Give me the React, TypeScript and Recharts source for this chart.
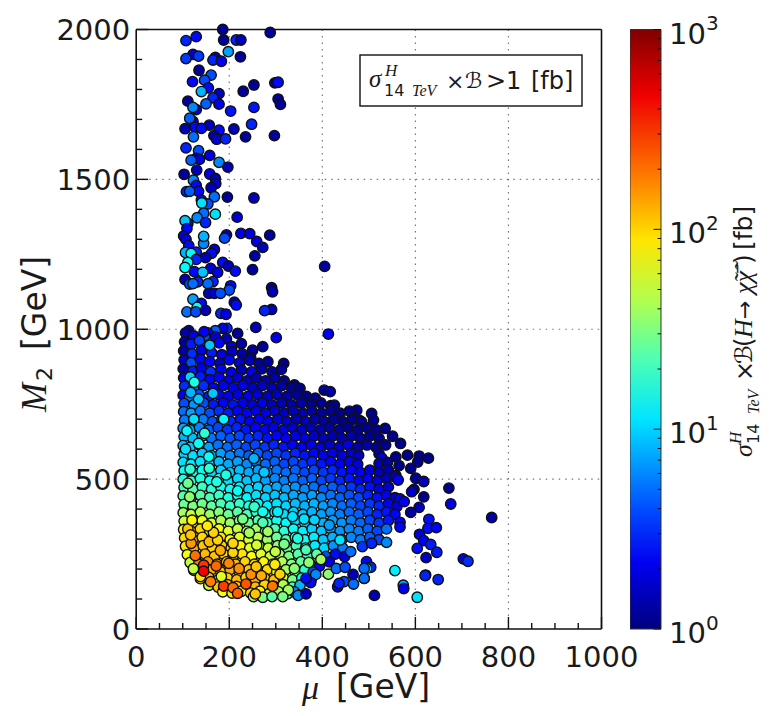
import {
  BarChart,
  Bar,
  ScatterChart,
  Scatter,
  XAxis,
  YAxis,
  CartesianGrid,
} from "recharts";

type Row = [number, number, number]; // mu [GeV], M2 [GeV], sigma x B [fb]

const X_MAJOR = [0, 200, 400, 600, 800, 1000];
const X_TICKS = [0, 50, 100, 150, 200, 250, 300, 350, 400, 450, 500, 550, 600, 650, 700, 750, 800, 850, 900, 950, 1000];
const Y_MAJOR = [0, 500, 1000, 1500, 2000];
const Y_TICKS = [0, 100, 200, 300, 400, 500, 600, 700, 800, 900, 1000, 1100, 1200, 1300, 1400, 1500, 1600, 1700, 1800, 1900, 2000];
const BAR_VALUES = [1, 2, 3, 4, 5, 6, 7, 8, 9, 10, 20, 30, 40, 50, 60, 70, 80, 90, 100, 200, 300, 400, 500, 600, 700, 800, 900, 1000];
const BAR_STOPS = [0, 0.05, 0.11, 0.2, 0.35, 0.45, 0.5, 0.55, 0.65, 0.75, 0.89, 1];
const BAR_DATA = [{ name: "scale", decades: 3 }];

// isolated points above the dense blob
const sparseTail: Row[] = [
  [129,1976,2.5],[107,1963,3],[188,1965,1.2],[186,2000,1.2],[215,1965,3],[225,1965,1.5],[288,1990,1.2],[198,1926,7],
  [122,1917,2],[107,1903,3.5],[134,1911,3.5],[170,1907,1.5],[165,1898,3],[183,1894,2.2],[224,1909,1.2],[135,1864,1.2],
  [161,1848,4],[121,1826,2.5],[147,1831,4],[155,1805,2.5],[140,1793,8],[253,1815,1.2],[230,1794,1.2],[298,1822,1.2],
  [305,1824,2.5],[178,1786,1.5],[165,1772,3],[150,1752,4.5],[111,1761,1.3],[178,1751,2],[129,1733,2],[122,1740,6],
  [305,1768,1.2],[310,1750,1.2],[203,1728,2.7],[253,1740,2.7],[122,1693,1.5],[115,1704,4.5],[157,1681,1.5],[105,1669,1.5],
  [127,1674,2.5],[140,1670,2.5],[178,1664,2.5],[210,1668,1.5],[248,1684,3],[123,1642,5],[167,1646,1.5],[173,1634,1.8],
  [192,1635,3],[235,1642,1.2],[297,1646,1.2],[107,1605,3],[134,1596,4],[158,1580,2],[129,1570,2],[136,1567,2],
  [118,1564,4.5],[178,1557,6],[197,1541,1.5],[103,1517,1.2],[130,1531,1.5],[158,1518,2],[170,1503,1.5],[123,1497,6],
  [171,1486,1.8],[129,1480,2.5],[161,1472,1.5],[108,1459,3],[134,1460,2.5],[115,1460,4.5],[196,1441,1.2],[253,1438,1.5],
  [168,1442,5],[140,1431,2.5],[154,1418,4],[141,1421,11],[170,1384,11],[145,1387,5],[217,1374,1.8],[131,1372,6],
  [111,1353,2.5],[149,1356,3],[105,1362,9],[109,1336,2.5],[225,1320,2],[244,1319,2],[287,1314,1.2],[194,1315,1.5],
  [190,1304,4],[102,1311,2],[107,1300,2],[145,1286,6],[145,1310,8],[259,1293,2],[272,1273,1.5],[113,1279,2.5],
  [168,1266,2],[129,1257,3],[106,1256,8],[118,1253,13],[255,1245,1.3],[162,1253,2.5],[149,1239,1.5],[129,1233,3],
  [186,1223,2.5],[111,1223,14],[105,1206,13],[405,1210,1.3],[198,1211,1.5],[213,1194,2.5],[250,1199,1.2],[160,1203,2],
  [175,1190,2],[125,1192,2.5],[143,1190,9],[105,1166,1.5],[165,1159,3],[132,1158,3],[115,1151,4],[122,1152,5],
  [154,1152,5],[203,1145,2.5],[200,1131,4],[291,1139,1.2],[293,1125,1.5],[156,1120,1.5],[168,1120,2],[181,1120,4],
  [122,1100,7],[140,1086,2.5],[131,1073,14],[211,1090,1.5],[215,1081,2.5],[109,1058,5],[128,1058,4],[149,1063,1.5],
  [182,1053,3],[193,1050,2],[291,1066,1.5],[276,1062,3],[113,995,1.5],[257,1006,1.5],[413,984,2.3],[301,972,2],
  [218,986,1.2],[195,1003,3],[186,1003,2],[170,995,4.5],[154,988,2.5],[147,977,4],[123,977,3],
];

// M2 from about 1000 down to 700
const upperBand: Row[] = [
  [106,988,1.4],[124,978,2.1],[146,992,2.4],[170,975,1.8],[194,968,1.5],
  [104,958,1.2],[118,950,2.8],[136,962,3.6],[178,955,2.4],[205,942,1.8],[226,952,1.3],[250,930,1.2],[272,942,1.2],
  [102,928,1.3],[120,918,3.2],[140,930,2],[162,922,2.8],[184,915,2],[206,926,1.6],[228,918,1.3],[246,905,1.3],
  [103,898,1.6],[118,888,4],[138,900,2.4],[158,892,2.4],[180,886,1.8],[200,898,2.4],[222,888,1.8],[244,896,1.5],[264,886,1.3],[283,892,1.2],[317,886,1.1],
  [101,868,1.3],[122,860,2.8],[140,870,2],[160,858,3.2],[182,866,2.4],[204,856,2],[226,864,1.5],[248,858,2.1],[270,868,1.3],[292,858,1.3],[312,866,1.2],
  [102,838,2],[118,830,5],[138,842,2.8],[158,832,2.4],[178,840,2.2],[198,828,2.1],[218,838,1.8],[238,828,1.6],[258,838,1.4],[278,828,1.5],[298,838,1.3],[318,828,1.2],[340,814,1.1],
  [104,810,3.2],[124,806,5],[145,812,3.2],[166,804,2.4],[187,812,2.1],[208,804,2],[229,812,2],[250,804,1.6],[271,812,1.6],[292,804,1.4],[313,812,1.3],[334,804,1.2],[352,803,1.1],[404,797,1.2],[417,792,1.3],
  [101,780,2.4],[115,776,5.5],[135,782,4],[156,776,2.8],[177,782,2.4],[198,776,2.2],[219,782,2],[240,776,2.1],[261,782,1.8],[282,776,1.6],[303,782,1.5],[324,776,1.3],[345,782,1.2],[366,776,1.1],[385,770,1.1],
  [103,752,4],[124,748,6.5],[145,754,4],[166,748,2.8],[187,754,2.4],[208,748,2.6],[229,754,2.1],[250,748,1.9],[271,754,2],[292,748,1.6],[313,754,1.5],[334,748,1.4],[355,754,1.3],[376,748,1.2],[397,754,1.1],[418,745,1.1],[426,747,1.1],[474,730,1.1],
  [102,725,5],[118,720,7],[138,727,5],[158,720,4],[178,727,3.2],[198,720,2.8],[218,727,2.4],[238,720,2.4],[258,727,2.1],[278,720,2],[298,727,1.8],[318,720,1.6],[338,727,1.5],[358,720,1.4],[378,727,1.3],[398,720,1.2],[418,727,1.2],[438,720,1.1],[458,727,1.1],[479,697,1.1],[506,719,1.1],
];

// M2 from about 700 down to 400
const middleBand: Row[] = [
  [104,697,5.5],[124,692,7],[144,699,5.5],[164,692,4],[184,699,3.4],[204,692,3],[224,699,2.7],[244,692,2.3],[264,699,2.3],[284,692,2],[304,699,1.8],[324,692,1.7],[344,699,1.5],[364,692,1.5],[384,699,1.4],[404,692,1.3],[424,699,1.2],[444,692,1.1],[464,699,1.1],[484,692,1.1],[510,697,1.1],
  [101,670,7],[116,664,8],[136,672,6],[156,664,4.5],[176,672,3.8],[196,664,3.4],[216,672,3],[236,664,2.7],[256,672,2.4],[276,664,2.3],[296,672,2],[316,664,1.9],[336,672,1.7],[356,664,1.7],[376,672,1.5],[396,664,1.4],[416,672,1.3],[436,664,1.2],[456,672,1.1],[476,664,1.1],[496,672,1.1],[516,664,1.1],[535,669,1.1],
  [103,642,8],[122,636,8.5],[142,644,7],[162,636,5.2],[182,644,4.5],[202,636,4.1],[222,644,3.8],[242,636,3.4],[262,644,3],[282,636,2.6],[302,644,2.4],[322,636,2.3],[342,644,2],[362,636,1.9],[382,644,1.7],[402,636,1.5],[422,644,1.4],[442,636,1.4],[462,644,1.3],[482,636,1.2],[502,644,1.1],[522,636,1.1],[551,643,1.1],
  [101,612,8.5],[116,606,9],[136,614,8.5],[156,606,7],[176,614,5.2],[196,606,4.9],[216,614,4.5],[236,606,3.8],[256,614,3.8],[276,606,3.4],[296,614,3],[316,606,2.7],[336,614,2.4],[356,606,2.3],[376,614,2.1],[396,606,1.9],[416,614,1.7],[436,606,1.7],[456,614,2.1],[476,606,1.4],[496,614,1.3],[516,606,1.2],[536,614,1.1],[568,619,1.1],
  [103,584,10],[122,578,11],[142,586,9],[162,578,8.5],[182,586,7],[202,578,6],[222,586,5.2],[242,578,4.5],[262,586,4.5],[282,578,3.8],[302,586,3.8],[322,578,3.4],[342,586,3],[362,578,2.7],[382,586,2.4],[402,578,2.3],[422,586,2.1],[442,578,1.9],[462,586,1.7],[478,580,1.5],[522,584,1.2],[528,570,1.9],[558,574,1.1],[583,580,1.1],[608,577,1.1],[628,570,1.1],
  [101,556,11],[118,550,12],[138,558,11],[158,550,9],[178,558,8.5],[198,550,7.5],[218,558,7],[238,550,6],[258,558,5.2],[278,550,4.9],[298,558,4.5],[318,550,3.8],[338,558,3.8],[358,550,3.4],[378,558,3],[398,550,2.7],[418,558,2.4],[438,550,2.3],[458,558,2.1],[476,550,1.9],[522,552,1.4],[540,556,1.2],[565,545,1.1],[605,557,1.1],[590,536,1.1],
  [103,528,14],[122,522,15],[142,530,14],[162,522,11],[182,530,10],[202,522,9],[222,530,8.5],[242,522,7.5],[262,530,7],[282,522,6],[302,530,5.2],[322,522,4.9],[342,530,4.5],[362,522,3.8],[382,530,3.8],[402,522,3.4],[422,530,3],[442,522,2.7],[462,530,2.4],[482,522,2.3],[502,530,1.9],[522,522,1.5],[542,530,1.3],[558,512,1.4],
  [101,500,17],[118,494,19],[138,502,17],[158,494,15],[178,502,13],[198,494,11],[218,502,10],[238,494,9],[258,502,8.5],[278,494,7],[298,502,6],[318,494,5.6],[338,502,5.2],[358,494,4.5],[378,502,4.5],[398,494,3.8],[418,502,3.4],[438,494,3],[458,502,2.7],[478,494,2.4],[498,502,2.3],[518,494,1.9],[538,502,1.5],[556,508,1.5],[563,497,2.3],[601,503,1.2],[618,492,1.5],
  [103,472,22],[122,466,24],[142,474,20],[162,466,18],[182,474,15],[202,466,14],[222,474,12],[242,466,10],[262,474,10],[282,466,8.5],[302,474,7.5],[322,466,7],[342,474,6.5],[362,466,6],[382,474,5.2],[402,466,4.5],[422,474,4.5],[442,466,3.8],[462,474,3.4],[482,466,3],[502,474,2.6],[522,466,2.1],[542,474,1.8],[597,466,1.2],[592,458,1.7],[672,470,1.1],
  [101,444,24],[118,438,26],[138,446,24],[158,438,22],[178,446,19],[198,438,17],[218,446,15],[238,438,13],[258,446,11],[278,438,10],[298,446,9],[318,438,8.5],[338,446,7.5],[358,438,7],[378,446,7],[398,438,6],[418,446,5.2],[438,438,4.5],[458,446,4.1],[478,438,3.8],[498,446,3],[518,438,2.6],[538,446,2.3],[556,438,1.7],[567,434,2.3],[618,441,1.1],
  [103,416,28],[122,410,32],[142,418,28],[162,410,26],[182,418,22],[202,410,20],[222,418,19],[242,410,16],[262,418,13],[282,410,12],[302,418,11],[322,410,10],[342,418,8.5],[362,410,8],[382,418,8],[402,410,7],[422,418,6],[442,410,5],[462,418,4.5],[482,410,3.8],[502,418,3.4],[522,410,3],[542,418,2.3],[560,408,1.9],[576,425,2.3],[608,406,1.5],[676,417,2],
];

// M2 from about 400 down to the lower edge
const lowerBand: Row[] = [
  [101,388,40],[118,382,50],[138,390,45],[158,382,38],[178,390,32],[198,382,28],[218,390,24],[238,382,22],[258,390,18],[278,382,15],[298,390,13],[318,382,11],[338,390,10],[358,382,9],[378,390,8],[398,382,7],[418,390,6.5],[438,382,5.5],[458,390,4.8],[478,382,4.5],[498,390,3.8],[518,382,3],[538,390,2.7],[556,382,2.4],[590,389,1.3],
  [103,360,55],[122,354,65],[142,362,65],[162,354,55],[182,362,44],[202,354,38],[222,362,32],[242,354,28],[262,362,23],[282,354,19],[302,362,15],[322,354,13],[342,362,11],[362,354,10],[382,362,9],[402,354,8],[422,362,7],[442,354,6.5],[462,362,5.5],[482,354,4.8],[502,362,3.8],[522,354,3.4],[542,362,2.7],[567,356,2.4],[629,366,2.6],[764,372,1.3],
  [102,332,80],[118,326,100],[138,334,100],[158,326,80],[178,334,70],[198,326,60],[218,334,50],[238,326,44],[258,334,40],[278,326,30],[298,334,22],[318,326,18],[338,334,14],[358,326,12],[378,334,10],[398,326,9],[418,334,7],[438,326,6.5],[458,334,6],[478,326,5.5],[498,334,4.5],[518,326,3.8],[538,334,5],[567,340,2.4],[627,336,2.6],[645,338,2.4],
  [104,304,95],[122,298,110],[142,306,95],[162,298,100],[182,306,90],[202,298,75],[222,306,60],[242,298,55],[262,306,48],[282,298,38],[302,306,28],[322,298,22],[342,306,18],[362,298,15],[382,306,12],[402,298,9],[422,306,8],[442,298,7],[462,306,6],[482,298,5.5],[502,306,4.5],[522,298,3.8],[609,316,1.8],
  [106,276,90],[124,270,130],[144,278,110],[164,270,100],[184,278,100],[204,270,100],[224,278,80],[244,270,60],[264,278,58],[284,270,50],[304,278,36],[324,270,28],[344,278,22],[364,270,18],[384,278,12],[404,270,10],[424,278,6.5],[444,270,5.5],[486,275,3.4],[506,286,3],[538,289,6],[618,295,2.4],[633,282,2.8],[604,269,2.6],
  [110,248,70],[128,242,150],[148,250,120],[168,242,110],[188,250,100],[208,242,110],[228,250,90],[248,242,75],[268,250,60],[288,242,52],[308,250,40],[328,242,30],[348,250,24],[368,242,20],[388,250,25],[408,242,4],[428,250,2.5],[448,242,2],[646,256,2.8],[623,238,1.6],
  [116,222,50],[134,216,180],[154,224,160],[174,216,130],[194,224,130],[214,216,120],[234,224,100],[254,216,100],[274,224,80],[294,216,70],[314,224,45],[334,216,32],[354,224,26],[374,216,22],[394,210,2.5],[415,224,2],[495,225,2.5],[703,234,2],[713,226,3.2],
  [124,196,45],[142,190,200],[162,198,120],[182,190,110],[202,198,130],[222,190,120],[242,198,110],[262,190,100],[282,198,95],[302,190,60],[322,198,40],[342,190,26],[362,198,18],[380,190,4],[504,206,3],[495,202,12],[556,195,12],
  [138,168,75],[156,172,120],[176,164,80],[196,170,100],[216,164,120],[236,172,100],[256,164,130],[276,170,110],[296,164,110],[316,170,60],[336,164,30],[356,170,15],[376,164,2.5],[490,169,4],[622,180,2.5],[621,178,3],[649,165,3],
  [156,146,50],[176,140,110],[196,148,120],[216,142,110],[236,148,110],[256,140,120],[276,148,100],[296,142,70],[316,148,45],[336,140,22],[352,146,8],[574,146,7],[575,135,2.2],
  [186,124,70],[206,120,90],[226,126,70],[246,120,100],[266,126,80],[286,118,60],[306,124,40],[326,118,25],[340,124,6],[512,112,1.4],[604,106,11],
  [252,108,40],[272,106,30],[292,108,24],
];

// fringe below the blob on the right, and dots that sit visibly on top
const rightFringe: Row[] = [
  [348,112,6],[365,117,1.5],[413,183,35],[397,232,40],[430,202,5],[449,206,4],[490,202,5],[433,141,2.5],[447,158,4],
  [467,150,5],[466,182,1.5],[436,152,3],[490,169,5],[386,182,6],[375,155,2.5],[365,169,2.5],
];
const brightDots: Row[] = [
  [145,213,300],[127,245,200],[172,210,210],[188,143,280],[208,138,200],[218,119,220],[236,150,240],[160,158,180],
  [199,219,170],[221,202,160],[247,182,160],[269,178,130],[293,143,190],[309,183,100],[298,215,85],[258,208,110],
  [256,117,110],[118,286,150],[111,334,110],[117,314,110],[157,291,120],[181,262,130],[208,255,100],[175,297,100],
  [208,286,100],[166,322,100],[153,344,85],[123,201,50],[138,175,90],[183,175,60],[340,202,35],[327,130,40],[315,108,30],
  [283,325,40],[243,321,40],[259,280,55],[299,258,50],[318,283,30],[365,264,22],[371,222,35],[347,302,16],[336,375,11],
  [361,367,11],[383,364,10],[304,391,12],[272,355,22],[229,367,30],[115,441,35],[111,486,28],[173,491,16],[218,461,14],
  [254,408,19],[272,391,15],[193,514,16],[120,363,80],[438,297,11],[415,347,7],[461,258,5],[106,600,11],[134,619,14],
  [156,575,14],[157,536,18],[116,533,18],[275,523,9],[253,569,8],[116,841,10],[125,823,16],[165,786,9],[188,700,13],
  [147,653,18],[109,661,13],[124,700,11],[134,767,9],[117,789,8],[158,947,9],[145,193,450],
];

const points = [...sparseTail, ...upperBand, ...middleBand, ...lowerBand, ...rightFringe, ...brightDots].map(
  ([mu, m2, sigma]) => ({ mu, m2, sigma })
);

const FONT = "DejaVu Sans";
const MATH = "Liberation Serif";
const INK = "#1a1a1a";

function jet(t: number) {
  const clamp = (v: number) => Math.round(255 * Math.max(0, Math.min(1, v)));
  const r = clamp(Math.min(4 * t - 1.5, -4 * t + 4.5));
  const g = clamp(Math.min(4 * t - 0.5, -4 * t + 3.5));
  const b = clamp(Math.min(4 * t + 0.5, -4 * t + 2.5));
  return `rgb(${r},${g},${b})`;
}

function JetDot({ cx, cy, payload }: any) {
  return (
    <circle
      cx={cx}
      cy={cy}
      r={5.2}
      fill={jet(Math.log10(payload.sigma) / 3)}
      stroke="#101010"
      strokeWidth={1.4}
    />
  );
}

function tickMark(majors: number[], side: "bottom" | "top" | "left" | "right", showLabel: boolean) {
  return function Tick({ x, y, payload }: any) {
    const major = majors.includes(payload.value);
    const len = major ? 12 : 6;
    const dx = side === "left" ? len : side === "right" ? -len : 0;
    const dy = side === "bottom" ? -len : side === "top" ? len : 0;
    return (
      <g>
        <line x1={x} y1={y} x2={x + dx} y2={y + dy} stroke="#111" strokeWidth={1.4} />
        {showLabel && major && side === "bottom" && (
          <text x={x} y={y + 38} textAnchor="middle" fontFamily={FONT} fontSize={29} fill={INK}>
            {payload.value}
          </text>
        )}
        {showLabel && major && side === "left" && (
          <text x={x - 6} y={y + 10.5} textAnchor="end" fontFamily={FONT} fontSize={29} fill={INK}>
            {payload.value}
          </text>
        )}
      </g>
    );
  };
}

function BarTick({ x, y, payload }: any) {
  const major = Math.abs(payload.value - Math.round(payload.value)) < 0.001;
  return (
    <g>
      <line x1={x} y1={y} x2={x - (major ? 7.5 : 3.5)} y2={y} stroke="#111" strokeWidth={1} />
      {major && (
        <text x={x + 8} y={y + 14} fontFamily={FONT} fontSize={29} fill={INK}>
          10
          <tspan fontSize={20} dy={-13.5}>
            {Math.round(payload.value)}
          </tspan>
        </text>
      )}
    </g>
  );
}

function Titles() {
  return (
    <svg
      width={772}
      height={716}
      style={{ position: "absolute", left: 0, top: 0, pointerEvents: "none" }}
    >
      <text x={302} y={699} fontFamily={MATH} fontStyle="italic" fontSize={34} fill={INK}>
        μ
      </text>
      <text x={336} y={698} fontFamily={FONT} fontSize={33} fill={INK}>
        [GeV]
      </text>

      <g transform="translate(46,412) rotate(-90)">
        <text x={0} y={0} fontFamily={MATH} fontStyle="italic" fontSize={35} fill={INK}>
          M
        </text>
        <text x={31} y={6} fontFamily={FONT} fontSize={22} fill={INK}>
          2
        </text>
        <text x={62} y={0} fontFamily={FONT} fontSize={33} fill={INK}>
          [GeV]
        </text>
      </g>

      <rect x={360} y={55} width={222} height={51} fill="#fff" stroke="#111" strokeWidth={1.4} />
      <text x={369} y={87} fontFamily={MATH} fontStyle="italic" fontSize={25} fill={INK}>
        σ
      </text>
      <text x={385} y={76} fontFamily={MATH} fontStyle="italic" fontSize={17} fill={INK}>
        H
      </text>
      <text x={384} y={96} fontFamily={FONT} fontSize={16} fill={INK}>
        14
      </text>
      <text x={412} y={96} fontFamily={MATH} fontStyle="italic" fontSize={16} fill={INK}>
        TeV
      </text>
      <text x={446} y={89} fontFamily={FONT} fontSize={22} fill={INK}>
        ×
      </text>
      <text x={465} y={88} fontFamily={FONT} fontSize={22} fill={INK}>
        ℬ
      </text>
      <text x={486} y={89} fontFamily={FONT} fontSize={24} fill={INK}>
        &gt;1
      </text>
      <text x={531} y={89} fontFamily={FONT} fontSize={24} fill={INK}>
        [fb]
      </text>

      <g transform="translate(752,457) rotate(-90)">
        <text x={0} y={0} fontFamily={MATH} fontStyle="italic" fontSize={26} fill={INK}>
          σ
        </text>
        <text x={13} y={-11} fontFamily={MATH} fontStyle="italic" fontSize={17} fill={INK}>
          H
        </text>
        <text x={13} y={7} fontFamily={FONT} fontSize={16} fill={INK}>
          14
        </text>
        <text x={43} y={7} fontFamily={MATH} fontStyle="italic" fontSize={16} fill={INK}>
          TeV
        </text>
        <text x={76} y={1} fontFamily={FONT} fontSize={24} fill={INK}>
          ×
        </text>
        <text x={93} y={0} fontFamily={FONT} fontSize={24} fill={INK}>
          ℬ
        </text>
        <text x={110} y={0} fontFamily={FONT} fontSize={24} fill={INK}>
          (
        </text>
        <text x={119} y={0} fontFamily={MATH} fontStyle="italic" fontSize={26} fill={INK}>
          H
        </text>
        <text x={138} y={0} fontFamily={FONT} fontSize={22} fill={INK}>
          →
        </text>
        <text x={163} y={0} fontFamily={MATH} fontStyle="italic" fontSize={26} fill={INK}>
          χ̃χ̃̄
        </text>
        <text x={193} y={0} fontFamily={FONT} fontSize={25} fill={INK}>
          )
        </text>
        <text x={207} y={0} fontFamily={FONT} fontSize={25} fill={INK}>
          [fb]
        </text>
      </g>
    </svg>
  );
}

export default function App() {
  return (
    <div style={{ position: "absolute", left: 0, top: 0, width: 772, height: 716, background: "#fff" }}>
      <div style={{ position: "absolute", left: 0, top: 0 }}>
        <ScatterChart
          width={640}
          height={716}
          margin={{ top: 28.5, right: 37.5, bottom: 0, left: 0 }}
        >
          <CartesianGrid
            stroke="#777"
            strokeWidth={1.2}
            strokeDasharray="1.5 5"
            verticalValues={[200, 400, 600, 800]}
            horizontalValues={[500, 1000, 1500]}
          />
          <XAxis
            xAxisId={0}
            type="number"
            dataKey="mu"
            domain={[0, 1000]}
            ticks={X_TICKS}
            interval={0}
            height={87}
            tickLine={false}
            tickSize={0}
            tickMargin={0}
            axisLine={{ stroke: "#111", strokeWidth: 1.6 }}
            tick={tickMark(X_MAJOR, "bottom", true)}
          />
          <XAxis
            xAxisId="top"
            type="number"
            orientation="top"
            domain={[0, 1000]}
            ticks={X_TICKS}
            interval={0}
            height={1}
            tickLine={false}
            tickSize={0}
            tickMargin={0}
            axisLine={{ stroke: "#111", strokeWidth: 1.6 }}
            tick={tickMark(X_MAJOR, "top", false)}
          />
          <YAxis
            yAxisId={0}
            type="number"
            dataKey="m2"
            domain={[0, 2000]}
            ticks={Y_TICKS}
            interval={0}
            width={136.2}
            tickLine={false}
            tickSize={0}
            tickMargin={0}
            axisLine={{ stroke: "#111", strokeWidth: 1.6 }}
            tick={tickMark(Y_MAJOR, "left", true)}
          />
          <YAxis
            yAxisId="right"
            type="number"
            orientation="right"
            domain={[0, 2000]}
            ticks={Y_TICKS}
            interval={0}
            width={1}
            tickLine={false}
            tickSize={0}
            tickMargin={0}
            axisLine={{ stroke: "#111", strokeWidth: 1.6 }}
            tick={tickMark(Y_MAJOR, "right", false)}
          />
          <Scatter
            data={points}
            xAxisId={0}
            yAxisId={0}
            isAnimationActive={false}
            shape={JetDot}
          />
        </ScatterChart>
      </div>

      <div style={{ position: "absolute", left: 630, top: 0 }}>
        <BarChart
          width={142}
          height={716}
          data={BAR_DATA}
          barCategoryGap={0}
          margin={{ top: 29.5, right: 0, bottom: 87, left: 0 }}
        >
          <defs>
            <linearGradient id="jetBar" x1="0" y1="1" x2="0" y2="0">
              {BAR_STOPS.map((s) => (
                <stop key={s} offset={s} stopColor={jet(s)} />
              ))}
            </linearGradient>
          </defs>
          <XAxis dataKey="name" hide />
          <YAxis
            type="number"
            orientation="right"
            domain={[0, 3]}
            ticks={BAR_VALUES.map((v) => Math.log10(v))}
            interval={0}
            width={111}
            tickLine={false}
            tickSize={0}
            tickMargin={0}
            axisLine={false}
            tick={BarTick}
          />
          <Bar
            dataKey="decades"
            fill="url(#jetBar)"
            stroke="#333"
            strokeWidth={1}
            isAnimationActive={false}
          />
        </BarChart>
      </div>

      <Titles />
    </div>
  );
}
